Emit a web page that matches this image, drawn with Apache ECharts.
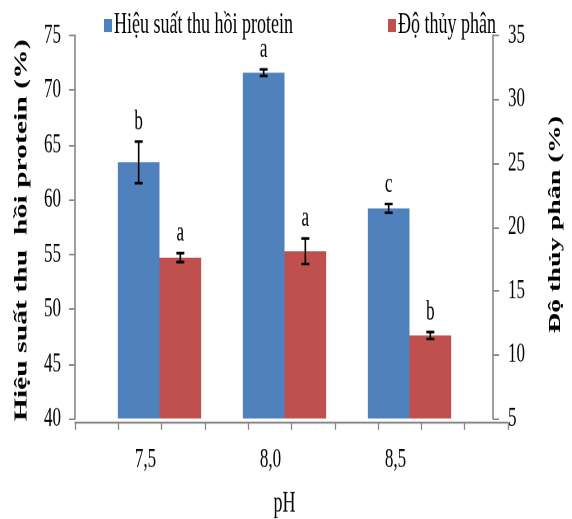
<!DOCTYPE html>
<html>
<head>
<meta charset="utf-8">
<script src="https://cdn.jsdelivr.net/npm/echarts@6/dist/echarts.min.js"></script>
<style>
html,body{margin:0;padding:0;background:#fff;overflow:hidden;width:572px;height:519px}
#c{width:572px;height:320px;transform-origin:0 0;transform:scaleY(1.6476)}
</style>
</head>
<body>
<div id="c"></div>
<script>
const categories = ['7,5', '8,0', '8,5'];
const recovery = [63.4, 71.6, 59.2];
const recoveryErr = [1.9, 0.3, 0.4];
const recoveryLetters = ['b', 'a', 'c'];
const hydrolysis = [17.6, 18.1, 11.5];
const hydrolysisErr = [0.35, 1.0, 0.27];
const hydrolysisLetters = ['a', 'a', 'b'];
const leftTicks = {min: 40, max: 75, interval: 5};
const rightTicks = {min: 5, max: 35, interval: 5};

const FONT = '"Liberation Serif", "Times New Roman", serif';
const AXIS = '#868686';
const BLUE = '#4F81BD';
const RED = '#C0504D';

function errSeries(name, values, errs, letters, yIdx, sign) {
  return {
    type: 'custom', name: name + ' err', xAxisIndex: 1, yAxisIndex: yIdx, z: 5,
    data: values.map((v, i) => [i, v, errs[i]]),
    encode: {x: 0, y: 1},
    renderItem: function (params, api) {
      const i = api.value(0), v = api.value(1), e = api.value(2);
      const band = api.size([1, 0])[0];
      const c = api.coord([i, v]);
      const x = c[0] + sign * band / 6;
      const top = api.coord([i, v + e])[1];
      const bot = api.coord([i, v - e])[1];
      const st = {stroke: '#000', lineWidth: 1.6};
      return {type: 'group', children: [
        {type: 'line', shape: {x1: x, y1: top, x2: x, y2: bot}, style: st},
        {type: 'line', shape: {x1: x - 4, y1: top, x2: x + 4, y2: top}, style: st},
        {type: 'line', shape: {x1: x - 4, y1: bot, x2: x + 4, y2: bot}, style: st},
        {type: 'text', style: {x: x, y: top - 3.5, text: letters[params.dataIndex], fill: '#000',
          font: '17px ' + FONT, align: 'center', verticalAlign: 'bottom'}}
      ]};
    }
  };
}

const chart = echarts.init(document.getElementById('c'), null, {devicePixelRatio: 2});
chart.setOption({
  animation: false,
  textStyle: {fontFamily: FONT},
  legend: {
    data: ['Hiệu suất thu hồi protein', 'Độ thủy phân'],
    left: 99, top: 1.5, itemWidth: 8, itemHeight: 8, itemGap: 95, icon: 'rect',
    textStyle: {fontFamily: FONT, fontSize: 18, color: '#000', padding: [0, 0, 0, -3]}
  },
  grid: [
    {left: 75, right: 64, top: 21.5, bottom: 63.3},
    {left: 97, right: 85, top: 21.5, bottom: 63.3}
  ],
  xAxis: [
    {type: 'value', gridIndex: 0, min: 0, max: 10, interval: 1,
      axisLine: {lineStyle: {color: AXIS, width: 1.3}},
      axisTick: {show: true, length: 4.2, lineStyle: {color: AXIS, width: 1.3}},
      axisLabel: {show: false}, splitLine: {show: false}},
    {type: 'category', gridIndex: 1, data: categories,
      axisLine: {show: false}, axisTick: {show: false},
      axisLabel: {fontFamily: FONT, fontSize: 17, color: '#000', margin: 16.5, padding: [0, 28, 0, 0]},
      name: 'pH', nameLocation: 'middle', nameGap: 43,
      nameTextStyle: {fontFamily: FONT, fontSize: 18, color: '#000'}}
  ],
  yAxis: [
    {type: 'value', gridIndex: 0, show: false, min: 0, max: 1},
    {type: 'value', gridIndex: 1, position: 'left', offset: 22,
      min: leftTicks.min, max: leftTicks.max, interval: leftTicks.interval,
      axisLine: {show: true, lineStyle: {color: AXIS, width: 1.6}},
      axisTick: {show: true, length: 6, lineStyle: {color: AXIS}},
      axisLabel: {fontFamily: FONT, fontSize: 17, color: '#000', margin: 14},
      splitLine: {show: false},
      name: 'Hiệu suất thu  hồi protein (%)', nameLocation: 'middle', nameRotate: 90, nameGap: 44,
      nameTextStyle: {fontFamily: FONT, fontSize: 18, fontWeight: 'bold', color: '#000', padding: [0, 4, 0, 0]}},
    {type: 'value', gridIndex: 1, position: 'right', offset: 21,
      min: rightTicks.min, max: rightTicks.max, interval: rightTicks.interval,
      axisLine: {show: true, lineStyle: {color: AXIS, width: 1.6}},
      axisTick: {show: true, length: 6, lineStyle: {color: AXIS}},
      axisLabel: {fontFamily: FONT, fontSize: 17, color: '#000', margin: 15},
      splitLine: {show: false},
      name: 'Độ thủy phân (%)', nameLocation: 'middle', nameRotate: 90, nameGap: 54,
      nameTextStyle: {fontFamily: FONT, fontSize: 17, fontWeight: 'bold', color: '#000', padding: [0, 0, 0, 3]}}
  ],
  series: [
    {type: 'bar', name: 'Hiệu suất thu hồi protein', xAxisIndex: 1, yAxisIndex: 1,
      data: recovery, barWidth: '33.33%', barGap: '0%', itemStyle: {color: BLUE}},
    {type: 'bar', name: 'Độ thủy phân', xAxisIndex: 1, yAxisIndex: 2,
      data: hydrolysis, barWidth: '33.33%', barGap: '0%', itemStyle: {color: RED}},
    errSeries('recovery', recovery, recoveryErr, recoveryLetters, 1, -1),
    errSeries('hydrolysis', hydrolysis, hydrolysisErr, hydrolysisLetters, 2, 1)
  ]
});
</script>
</body>
</html>
